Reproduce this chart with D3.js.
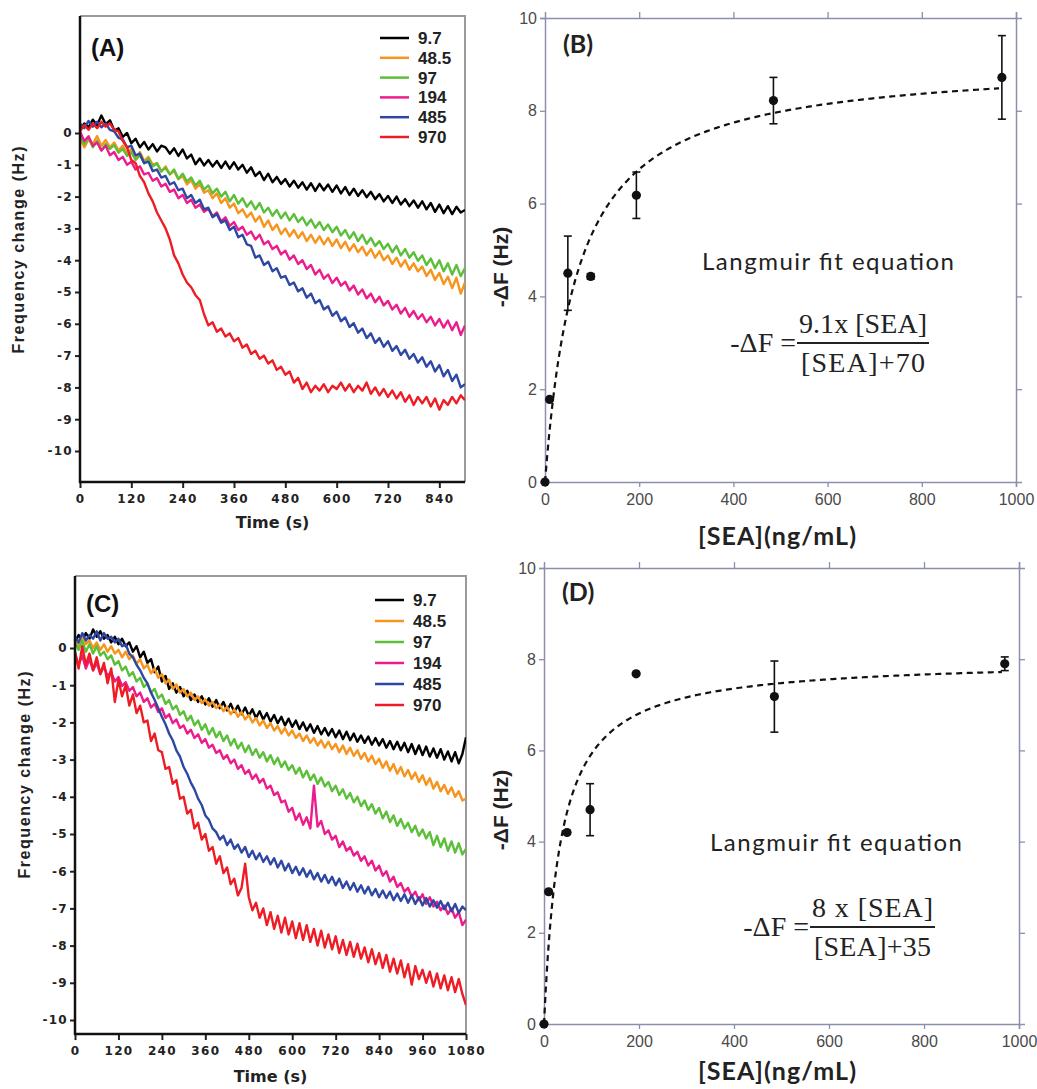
<!DOCTYPE html>
<html>
<head>
<meta charset="utf-8">
<script src="https://cdn.jsdelivr.net/npm/d3@7"></script>
<style>
  body { margin: 0; background: #fff; }
  svg { display: block; }
</style>
</head>
<body>
<svg id="chart" width="1037" height="1089"></svg>
<script>
// ---- data ----
const seriesNames = ['9.7', '48.5', '97', '194', '485', '970']
const seriesColors = ['#000000', '#f7941d', '#5cbf3a', '#ec1c8c', '#2e47a3', '#ee1c24']
const STEP = 10 // seconds between samples

// panel A, frequency change (Hz) every 10 s, 0..900 s
const A_9_7 = [
  0.10, 0.30, 0.18, 0.42, 0.25, 0.55, 0.28, 0.40, 0.08, 0.15,
  -0.12, 0.00, -0.32, -0.18, -0.45, -0.28, -0.52, -0.35, -0.58, -0.40,
  -0.45, -0.65, -0.48, -0.72, -0.52, -0.80, -0.68, -0.98, -0.80, -1.02,
  -0.85, -1.05, -0.88, -1.10, -0.90, -1.12, -0.92, -1.15, -1.00, -1.25,
  -1.08, -1.35, -1.22, -1.48, -1.28, -1.55, -1.38, -1.60, -1.45, -1.68,
  -1.50, -1.72, -1.55, -1.78, -1.58, -1.82, -1.60, -1.80, -1.62, -1.85,
  -1.65, -1.90, -1.70, -1.95, -1.75, -1.98, -1.80, -2.02, -1.85, -2.08,
  -1.92, -2.15, -1.98, -2.20, -2.00, -2.25, -2.08, -2.30, -2.12, -2.35,
  -2.15, -2.40, -2.20, -2.48, -2.25, -2.52, -2.30, -2.55, -2.32, -2.50,
  -2.42]
const A_48_5 = [
  -0.15, -0.45, -0.20, -0.35, -0.10, -0.40, -0.22, -0.45, -0.30, -0.55,
  -0.40, -0.65, -0.50, -0.78, -0.60, -0.88, -0.75, -1.00, -0.95, -1.22,
  -1.05, -1.30, -1.20, -1.45, -1.35, -1.62, -1.48, -1.75, -1.60, -1.88,
  -1.80, -2.05, -1.90, -2.20, -2.05, -2.35, -2.22, -2.52, -2.40, -2.65,
  -2.50, -2.78, -2.62, -2.95, -2.75, -3.05, -2.88, -3.18, -3.00, -3.25,
  -3.05, -3.30, -3.12, -3.40, -3.20, -3.45, -3.25, -3.50, -3.30, -3.55,
  -3.35, -3.62, -3.42, -3.70, -3.50, -3.75, -3.58, -3.85, -3.65, -3.92,
  -3.72, -4.00, -3.85, -4.12, -3.92, -4.20, -4.00, -4.30, -4.10, -4.35,
  -4.20, -4.50, -4.30, -4.62, -4.40, -4.75, -4.52, -4.88, -4.55, -5.05,
  -4.70]
const A_97 = [
  -0.05, -0.35, -0.15, -0.45, -0.25, -0.55, -0.35, -0.50, -0.38, -0.62,
  -0.50, -0.72, -0.60, -0.85, -0.70, -0.95, -0.80, -1.05, -0.95, -1.20,
  -1.10, -1.30, -1.15, -1.45, -1.28, -1.52, -1.40, -1.65, -1.50, -1.78,
  -1.65, -1.90, -1.75, -2.00, -1.85, -2.15, -1.95, -2.22, -2.05, -2.32,
  -2.15, -2.40, -2.20, -2.50, -2.35, -2.60, -2.42, -2.68, -2.50, -2.75,
  -2.55, -2.80, -2.65, -2.90, -2.72, -2.98, -2.80, -3.05, -2.88, -3.12,
  -2.95, -3.22, -3.05, -3.32, -3.12, -3.40, -3.20, -3.48, -3.30, -3.55,
  -3.40, -3.65, -3.48, -3.75, -3.55, -3.85, -3.65, -3.92, -3.75, -4.02,
  -3.85, -4.15, -3.95, -4.25, -4.00, -4.35, -4.10, -4.45, -4.15, -4.50,
  -4.25]
const A_194 = [
  0.05, -0.25, -0.10, -0.40, -0.30, -0.55, -0.40, -0.70, -0.60, -0.85,
  -0.75, -1.00, -0.90, -1.15, -1.05, -1.30, -1.25, -1.50, -1.42, -1.68,
  -1.60, -1.85, -1.78, -2.05, -1.95, -2.20, -2.10, -2.35, -2.25, -2.48,
  -2.38, -2.62, -2.50, -2.78, -2.65, -2.92, -2.80, -3.05, -2.95, -3.20,
  -3.10, -3.35, -3.20, -3.50, -3.40, -3.65, -3.55, -3.82, -3.70, -3.98,
  -3.85, -4.12, -4.00, -4.28, -4.15, -4.45, -4.30, -4.58, -4.45, -4.72,
  -4.55, -4.80, -4.68, -4.95, -4.80, -5.08, -4.92, -5.20, -5.05, -5.32,
  -5.15, -5.42, -5.28, -5.55, -5.40, -5.68, -5.50, -5.78, -5.60, -5.85,
  -5.70, -5.95, -5.78, -6.05, -5.85, -6.12, -5.90, -6.20, -5.95, -6.35,
  -6.05]
const A_485 = [
  0.30, 0.15, 0.38, 0.20, 0.35, 0.18, 0.30, 0.10, 0.05, -0.15,
  -0.20, -0.45, -0.40, -0.70, -0.65, -0.95, -0.90, -1.20, -1.15, -1.40,
  -1.35, -1.62, -1.55, -1.80, -1.75, -2.05, -1.95, -2.20, -2.10, -2.40,
  -2.35, -2.65, -2.55, -2.82, -2.75, -3.05, -2.95, -3.28, -3.20, -3.50,
  -3.55, -3.92, -3.85, -4.15, -4.05, -4.35, -4.25, -4.55, -4.50, -4.78,
  -4.70, -4.98, -4.88, -5.18, -5.05, -5.35, -5.25, -5.55, -5.45, -5.75,
  -5.62, -5.92, -5.80, -6.10, -5.98, -6.28, -6.15, -6.45, -6.30, -6.60,
  -6.45, -6.72, -6.55, -6.85, -6.70, -6.98, -6.82, -7.10, -6.95, -7.22,
  -7.05, -7.35, -7.18, -7.50, -7.30, -7.65, -7.45, -7.80, -7.60, -8.00,
  -7.90]
const A_970 = [
  0.05, 0.25, 0.10, 0.30, 0.15, 0.35, 0.20, 0.30, 0.10, 0.05,
  -0.25, -0.45, -0.85, -0.95, -1.35, -1.55, -1.90, -2.15, -2.50, -2.75,
  -3.00, -3.35, -3.85, -4.10, -4.45, -4.70, -4.85, -5.10, -5.25, -5.70,
  -6.05, -5.95, -6.25, -6.15, -6.40, -6.30, -6.55, -6.45, -6.75, -6.65,
  -6.95, -6.85, -7.10, -7.00, -7.25, -7.15, -7.45, -7.35, -7.60, -7.50,
  -7.85, -7.70, -8.05, -7.85, -8.15, -7.95, -8.10, -7.90, -8.15, -7.95,
  -8.05, -7.85, -8.10, -7.90, -8.15, -7.95, -8.10, -7.85, -8.20, -8.00,
  -8.25, -8.05, -8.30, -8.10, -8.35, -8.15, -8.45, -8.25, -8.55, -8.30,
  -8.50, -8.30, -8.60, -8.35, -8.70, -8.40, -8.55, -8.30, -8.50, -8.25,
  -8.40]

// panel C, frequency change (Hz) every 10 s, 0..1080 s
const C_9_7 = [
  0.15, 0.35, 0.20, 0.40, 0.25, 0.50, 0.30, 0.45, 0.25, 0.35,
  0.15, 0.30, 0.10, 0.25, 0.05, 0.15, -0.10, 0.05, -0.25, -0.10,
  -0.40, -0.30, -0.65, -0.50, -0.90, -0.75, -1.10, -0.95, -1.20, -1.05,
  -1.30, -1.15, -1.40, -1.25, -1.45, -1.30, -1.52, -1.35, -1.58, -1.40,
  -1.62, -1.45, -1.68, -1.50, -1.72, -1.55, -1.78, -1.60, -1.82, -1.65,
  -1.88, -1.70, -1.92, -1.75, -1.98, -1.80, -2.02, -1.85, -2.08, -1.90,
  -2.12, -1.95, -2.18, -2.00, -2.22, -2.05, -2.28, -2.10, -2.32, -2.15,
  -2.35, -2.18, -2.40, -2.22, -2.45, -2.25, -2.48, -2.30, -2.52, -2.35,
  -2.55, -2.38, -2.60, -2.42, -2.62, -2.45, -2.68, -2.50, -2.72, -2.52,
  -2.75, -2.55, -2.80, -2.58, -2.85, -2.62, -2.88, -2.65, -2.92, -2.70,
  -2.95, -2.72, -3.00, -2.78, -3.05, -2.80, -3.10, -2.85, -2.40]
const C_48_5 = [
  0.25, 0.05, 0.30, 0.10, 0.20, 0.00, 0.15, -0.05, 0.10, -0.10,
  0.05, -0.15, -0.05, -0.25, -0.10, -0.30, -0.20, -0.42, -0.30, -0.55,
  -0.45, -0.68, -0.55, -0.80, -0.70, -0.95, -0.85, -1.10, -0.98, -1.20,
  -1.10, -1.30, -1.20, -1.40, -1.30, -1.48, -1.38, -1.55, -1.45, -1.62,
  -1.52, -1.70, -1.58, -1.78, -1.65, -1.85, -1.72, -1.92, -1.80, -2.00,
  -1.88, -2.08, -1.95, -2.15, -2.02, -2.22, -2.10, -2.30, -2.15, -2.35,
  -2.22, -2.42, -2.30, -2.50, -2.35, -2.55, -2.42, -2.62, -2.48, -2.68,
  -2.52, -2.72, -2.58, -2.80, -2.62, -2.85, -2.68, -2.90, -2.75, -2.98,
  -2.82, -3.05, -2.90, -3.12, -2.98, -3.22, -3.05, -3.30, -3.12, -3.38,
  -3.20, -3.45, -3.28, -3.52, -3.35, -3.60, -3.42, -3.68, -3.50, -3.78,
  -3.60, -3.85, -3.68, -3.92, -3.75, -4.00, -3.85, -4.10, -4.05]
const C_97 = [
  0.15, -0.05, 0.20, -0.10, 0.10, -0.15, 0.05, -0.20, -0.10, -0.30,
  -0.20, -0.45, -0.35, -0.60, -0.50, -0.75, -0.65, -0.90, -0.80, -1.05,
  -0.95, -1.20, -1.10, -1.35, -1.25, -1.50, -1.40, -1.65, -1.55, -1.80,
  -1.70, -1.95, -1.82, -2.08, -1.95, -2.20, -2.05, -2.32, -2.15, -2.40,
  -2.25, -2.50, -2.35, -2.62, -2.45, -2.70, -2.55, -2.80, -2.62, -2.88,
  -2.72, -2.95, -2.80, -3.05, -2.88, -3.12, -2.95, -3.20, -3.05, -3.28,
  -3.15, -3.38, -3.22, -3.48, -3.30, -3.55, -3.40, -3.65, -3.48, -3.72,
  -3.60, -3.85, -3.70, -3.95, -3.80, -4.05, -3.90, -4.15, -4.00, -4.25,
  -4.10, -4.35, -4.20, -4.45, -4.30, -4.58, -4.40, -4.68, -4.50, -4.78,
  -4.60, -4.85, -4.70, -4.95, -4.78, -5.05, -4.88, -5.12, -4.95, -5.30,
  -5.05, -5.35, -5.12, -5.45, -5.20, -5.50, -5.25, -5.55, -5.40]
const C_194 = [
  -0.15, -0.45, -0.20, -0.55, -0.30, -0.60, -0.40, -0.70, -0.50, -0.75,
  -0.65, -0.90, -0.78, -1.02, -0.92, -1.15, -1.05, -1.30, -1.20, -1.45,
  -1.35, -1.60, -1.50, -1.72, -1.62, -1.88, -1.78, -2.02, -1.92, -2.15,
  -2.08, -2.30, -2.20, -2.42, -2.32, -2.55, -2.45, -2.68, -2.60, -2.82,
  -2.75, -2.98, -2.88, -3.10, -3.00, -3.25, -3.15, -3.38, -3.28, -3.52,
  -3.40, -3.62, -3.52, -3.78, -3.70, -3.95, -3.88, -4.15, -4.10, -4.40,
  -4.30, -4.62, -4.45, -4.75, -4.55, -4.85, -3.70, -4.80, -4.65, -5.00,
  -4.90, -5.15, -5.05, -5.35, -5.20, -5.45, -5.35, -5.58, -5.48, -5.72,
  -5.60, -5.85, -5.72, -5.98, -5.85, -6.12, -6.00, -6.28, -6.15, -6.42,
  -6.32, -6.55, -6.45, -6.68, -6.55, -6.78, -6.62, -6.88, -6.70, -6.95,
  -6.82, -7.05, -6.92, -7.15, -7.00, -7.25, -7.10, -7.45, -7.30]
const C_485 = [
  0.30, 0.15, 0.40, 0.20, 0.35, 0.25, 0.45, 0.20, 0.40, 0.25,
  0.30, 0.15, 0.25, 0.05, 0.10, -0.15, -0.25, -0.45, -0.60, -0.80,
  -0.95, -1.20, -1.40, -1.62, -1.85, -2.05, -2.30, -2.48, -2.75, -2.92,
  -3.20, -3.38, -3.62, -3.80, -4.05, -4.22, -4.50, -4.62, -4.85, -4.95,
  -5.15, -5.05, -5.30, -5.15, -5.40, -5.28, -5.50, -5.35, -5.62, -5.45,
  -5.68, -5.52, -5.75, -5.60, -5.82, -5.65, -5.90, -5.72, -5.98, -5.80,
  -6.05, -5.88, -6.10, -5.92, -6.15, -5.98, -6.22, -6.05, -6.28, -6.10,
  -6.32, -6.15, -6.38, -6.20, -6.45, -6.28, -6.50, -6.32, -6.55, -6.38,
  -6.60, -6.42, -6.65, -6.48, -6.70, -6.52, -6.72, -6.55, -6.78, -6.60,
  -6.80, -6.62, -6.85, -6.65, -6.88, -6.70, -6.92, -6.72, -6.95, -6.78,
  -6.98, -6.80, -7.02, -6.85, -7.08, -6.88, -7.12, -6.95, -7.05]
const C_970 = [
  -0.10, -0.55, 0.05, -0.45, -0.15, -0.60, -0.25, -0.70, -0.40, -0.95,
  -0.55, -1.45, -0.85, -1.30, -1.00, -1.55, -1.25, -1.75, -1.55, -2.00,
  -1.95, -2.50, -2.30, -2.75, -2.80, -3.25, -3.20, -3.65, -3.55, -4.05,
  -4.00, -4.45, -4.35, -4.85, -4.70, -5.15, -5.00, -5.45, -5.35, -5.80,
  -5.60, -6.05, -5.90, -6.35, -6.20, -6.65, -6.45, -5.80, -6.70, -7.05,
  -6.85, -7.25, -7.00, -7.45, -7.10, -7.55, -7.20, -7.65, -7.25, -7.70,
  -7.35, -7.80, -7.40, -7.85, -7.45, -7.90, -7.55, -8.00, -7.60, -8.05,
  -7.70, -8.10, -7.75, -8.20, -7.85, -8.25, -7.90, -8.30, -7.95, -8.35,
  -8.05, -8.45, -8.10, -8.50, -8.20, -8.60, -8.25, -8.70, -8.35, -8.75,
  -8.40, -8.85, -8.50, -9.05, -8.55, -8.90, -8.65, -9.00, -8.70, -9.10,
  -8.75, -9.15, -8.80, -9.20, -8.85, -9.25, -8.90, -9.30, -9.60]

// panels B and D: response vs SEA concentration (ng/mL)
const seaConc = [0, 9.7, 48.5, 97, 194, 485, 970]
const dfB = [0, 1.78, 4.5, 4.43, 6.18, 8.22, 8.72]
const errB = [0, 0, 0.8, 0.06, 0.5, 0.5, 0.9]
const dfD = [0, 2.9, 4.2, 4.7, 7.68, 7.18, 7.9]
const errD = [0, 0, 0, 0.57, 0, 0.78, 0.15]
const fitB = [9.1, 70] // Fmax, K
const fitD = [8, 35]

const timeTicksA = [0, 120, 240, 360, 480, 600, 720, 840]
const timeTicksC = [0, 120, 240, 360, 480, 600, 720, 840, 960, 1080]
const freqTicks = [0, -1, -2, -3, -4, -5, -6, -7, -8, -9, -10]
const concTicks = [0, 200, 400, 600, 800, 1000]
const dfTicks = [0, 2, 4, 6, 8, 10]

// ---- drawing ----
const svg = d3.select('#chart')
const AXIS_GRAY = '#8b8fae'

function tracePanel(opt) {
  const g = svg.append('g')
  const x = d3.scaleLinear().domain([0, opt.xMax]).range([opt.x0, opt.x1])
  const y = d3.scaleLinear().domain([-10, 0]).range([opt.yM10, opt.y0])
  const clipId = 'clip' + opt.letter
  svg.append('clipPath').attr('id', clipId)
    .append('rect')
    .attr('x', opt.x0).attr('y', opt.top)
    .attr('width', opt.x1 - opt.x0).attr('height', opt.bottom - opt.top)

  // frame (gray top / right)
  g.append('path')
    .attr('d', `M${opt.x0},${opt.top}H${opt.x1}V${opt.bottom}`)
    .attr('fill', 'none').attr('stroke', '#9a9a9a').attr('stroke-width', 2)

  const line = d3.line()
    .x((d, i) => x(i * STEP))
    .y(d => y(d))
  g.append('g').attr('clip-path', `url(#${clipId})`)
    .selectAll('path')
    .data(opt.series)
    .join('path')
    .attr('d', d => line(d))
    .attr('fill', 'none')
    .attr('stroke', (d, i) => seriesColors[i])
    .attr('stroke-width', 2.4)
    .attr('stroke-linejoin', 'round')

  // y axis
  const yAxis = g.append('g')
    .attr('transform', `translate(${opt.x0},0)`)
    .call(d3.axisLeft(y).tickValues(freqTicks).tickSize(5).tickFormat(d => String(d)))
  yAxis.select('.domain').remove()
  g.append('line')
    .attr('x1', opt.x0).attr('x2', opt.x0)
    .attr('y1', opt.top).attr('y2', opt.bottom + 1)
    .attr('stroke', '#111').attr('stroke-width', 2.5)
  // x axis
  const xAxis = g.append('g')
    .attr('transform', `translate(0,${opt.bottom})`)
    .call(d3.axisBottom(x).tickValues(opt.xTicks).tickSize(6).tickFormat(d => String(d)))
  xAxis.select('.domain').remove()
  g.append('line')
    .attr('x1', opt.x0 - 1).attr('x2', opt.x1)
    .attr('y1', opt.bottom).attr('y2', opt.bottom)
    .attr('stroke', '#111').attr('stroke-width', 2.5)

  g.selectAll('.tick line').attr('stroke', '#222').attr('stroke-width', 2)
  g.selectAll('.tick text')
    .attr('font-family', 'DejaVu Sans')
    .attr('font-weight', 'bold')
    .attr('font-size', 12)
    .attr('letter-spacing', 1.3)
    .attr('fill', '#222')
  yAxis.selectAll('.tick text').attr('x', -7)
  xAxis.selectAll('.tick text').attr('y', 12)

  // panel letter
  g.append('text')
    .attr('x', opt.x0 + 11).attr('y', opt.letterY)
    .attr('font-family', 'Liberation Sans').attr('font-weight', 'bold')
    .attr('font-size', 24).attr('fill', '#111')
    .text(`(${opt.letter})`)

  // legend
  const leg = g.append('g')
  seriesNames.forEach((name, i) => {
    const ly = opt.legY + i * opt.legStep
    leg.append('line')
      .attr('x1', opt.legX).attr('x2', opt.legX + 29)
      .attr('y1', ly).attr('y2', ly)
      .attr('stroke', seriesColors[i]).attr('stroke-width', 2.5)
    leg.append('text')
      .attr('x', opt.legX + 38).attr('y', ly + 6)
      .attr('font-family', 'Liberation Sans').attr('font-weight', 'bold')
      .attr('font-size', 17).attr('fill', '#222')
      .text(name)
  })

  // axis titles
  g.append('text')
    .attr('transform', `translate(${opt.yLabelX},${opt.yLabelY}) rotate(-90)`)
    .attr('text-anchor', 'middle')
    .attr('font-family', 'Liberation Sans').attr('font-weight', 'bold')
    .attr('font-size', 16).attr('fill', '#222')
    .attr('textLength', 207).attr('lengthAdjust', 'spacing')
    .text('Frequency change (Hz)')
  g.append('text')
    .attr('x', (opt.x0 + opt.x1) / 2).attr('y', opt.xLabelY)
    .attr('text-anchor', 'middle')
    .attr('font-family', 'DejaVu Sans').attr('font-weight', 'bold')
    .attr('font-size', 16).attr('fill', '#222')
    .text('Time (s)')
}

function langmuirPanel(opt) {
  const g = svg.append('g')
  const x = d3.scaleLinear().domain([0, 1000]).range([opt.x0, opt.x1])
  const y = d3.scaleLinear().domain([0, 10]).range([opt.y0, opt.y10])

  const axes = [
    d3.axisLeft(y).tickValues(dfTicks).tickSize(5).tickFormat(d => String(d)),
    d3.axisBottom(x).tickValues(concTicks).tickSize(5).tickFormat(d => String(d)),
    d3.axisTop(x).tickValues(concTicks.slice(1)).tickSize(6).tickFormat(''),
    d3.axisRight(y).tickValues(dfTicks.slice(1, 5)).tickSize(6).tickFormat('')
  ]
  const pos = [`translate(${opt.x0},0)`, `translate(0,${opt.y0})`,
    `translate(0,${opt.y10})`, `translate(${opt.x1},0)`]
  axes.forEach((ax, i) => {
    const a = g.append('g').attr('transform', pos[i]).call(ax)
    a.select('.domain').attr('stroke', AXIS_GRAY).attr('stroke-width', 1.5)
    a.selectAll('.tick line').attr('stroke', AXIS_GRAY).attr('stroke-width', 1.3)
    a.selectAll('.tick text')
      .attr('font-family', 'Liberation Sans').attr('font-size', 16).attr('fill', '#4a4a4a')
    if (i === 0) a.selectAll('.tick text').attr('x', -8)
    if (i === 1) a.selectAll('.tick text').attr('y', 12)
  })

  // Langmuir fit curve
  const [fmax, k] = opt.fit
  const xs = d3.range(0, 966, 4)
  const fit = d3.line().x(c => x(c)).y(c => y(fmax * c / (c + k)))
  g.append('path')
    .attr('d', fit(xs))
    .attr('fill', 'none').attr('stroke', '#111')
    .attr('stroke-width', 2.2).attr('stroke-dasharray', '6,4.5')

  // error bars
  const pts = seaConc.map((c, i) => ({ c, v: opt.values[i], e: opt.errs[i] }))
  const eb = g.append('g').attr('stroke', '#111').attr('stroke-width', 1.6)
  pts.filter(p => p.e > 0).forEach(p => {
    eb.append('line').attr('x1', x(p.c)).attr('x2', x(p.c))
      .attr('y1', y(p.v - p.e)).attr('y2', y(p.v + p.e))
    ;[p.v - p.e, p.v + p.e].forEach(v => {
      eb.append('line').attr('x1', x(p.c) - 4).attr('x2', x(p.c) + 4)
        .attr('y1', y(v)).attr('y2', y(v))
    })
  })
  g.append('g').selectAll('circle')
    .data(pts)
    .join('circle')
    .attr('cx', p => x(p.c)).attr('cy', p => y(p.v))
    .attr('r', 4.6).attr('fill', '#111')

  g.append('text')
    .attr('x', opt.letterX).attr('y', opt.letterY)
    .attr('font-family', 'Lato').attr('font-weight', 'bold')
    .attr('font-size', 25).attr('fill', '#222')
    .text(`(${opt.letter})`)

  g.append('text')
    .attr('x', opt.eqTitle[0]).attr('y', opt.eqTitle[1])
    .attr('text-anchor', 'middle')
    .attr('font-family', 'Lato').attr('font-size', 24).attr('fill', '#222')
    .attr('textLength', 252).attr('lengthAdjust', 'spacing')
    .text('Langmuir fit equation')

  // equation  -ΔF = num / den
  const [ex, ey] = opt.eq
  const serif = 'Liberation Serif'
  g.append('text')
    .attr('x', ex - 1).attr('y', ey + 9)
    .attr('text-anchor', 'end')
    .attr('font-family', serif).attr('font-size', 28).attr('fill', '#222')
    .text('-ΔF =')
  g.append('line')
    .attr('x1', ex).attr('x2', ex + opt.barW)
    .attr('y1', ey).attr('y2', ey)
    .attr('stroke', '#222').attr('stroke-width', 2)
  g.append('text')
    .attr('x', ex + opt.barW / 2).attr('y', ey - 10)
    .attr('text-anchor', 'middle')
    .attr('font-family', serif).attr('font-size', 28).attr('fill', '#222')
    .attr('textLength', opt.barW - 4).attr('lengthAdjust', 'spacing')
    .text(opt.num)
  g.append('text')
    .attr('x', ex + opt.barW / 2).attr('y', ey + 29)
    .attr('text-anchor', 'middle')
    .attr('font-family', serif).attr('font-size', 28).attr('fill', '#222')
    .attr('textLength', opt.barW - 8).attr('lengthAdjust', 'spacing')
    .text(opt.den)

  g.append('text')
    .attr('transform', `translate(${opt.yLabelX},${opt.yLabelY}) rotate(-90)`)
    .attr('text-anchor', 'middle')
    .attr('font-family', 'Liberation Sans').attr('font-weight', 'bold')
    .attr('font-size', 21).attr('fill', '#222')
    .text('-ΔF (Hz)')
  g.append('text')
    .attr('x', opt.xLabel[0]).attr('y', opt.xLabel[1])
    .attr('text-anchor', 'middle')
    .attr('font-family', 'Lato').attr('font-weight', 'bold')
    .attr('font-size', 25).attr('fill', '#222')
    .attr('textLength', 158).attr('lengthAdjust', 'spacing')
    .text('[SEA](ng/mL)')
}

tracePanel({
  letter: 'A', series: [A_9_7, A_48_5, A_97, A_194, A_485, A_970],
  xMax: 900, x0: 80, x1: 465, top: 16, bottom: 482, y0: 133, yM10: 451,
  xTicks: timeTicksA, letterY: 56, legX: 380, legY: 38, legStep: 19.8,
  yLabelX: 24, yLabelY: 250, xLabelY: 528
})
tracePanel({
  letter: 'C', series: [C_9_7, C_48_5, C_97, C_194, C_485, C_970],
  xMax: 1080, x0: 75, x1: 466, top: 576, bottom: 1034, y0: 648, yM10: 1020,
  xTicks: timeTicksC, letterY: 612, legX: 375, legY: 600, legStep: 21,
  yLabelX: 30, yLabelY: 775, xLabelY: 1082
})
langmuirPanel({
  letter: 'B', values: dfB, errs: errB, fit: fitB,
  x0: 545, x1: 1016, y0: 482, y10: 18, letterX: 563, letterY: 53,
  eqTitle: [828, 270], eq: [797, 343], barW: 132, num: '9.1x [SEA]', den: '[SEA]+70',
  yLabelX: 508, yLabelY: 267, xLabel: [777, 545]
})
langmuirPanel({
  letter: 'D', values: dfD, errs: errD, fit: fitD,
  x0: 544, x1: 1019, y0: 1024, y10: 568, letterX: 562, letterY: 601,
  eqTitle: [836, 851], eq: [810, 927], barW: 125, num: '8 x [SEA]', den: '[SEA]+35',
  yLabelX: 508, yLabelY: 810, xLabel: [777, 1080]
})
</script>
</body>
</html>
